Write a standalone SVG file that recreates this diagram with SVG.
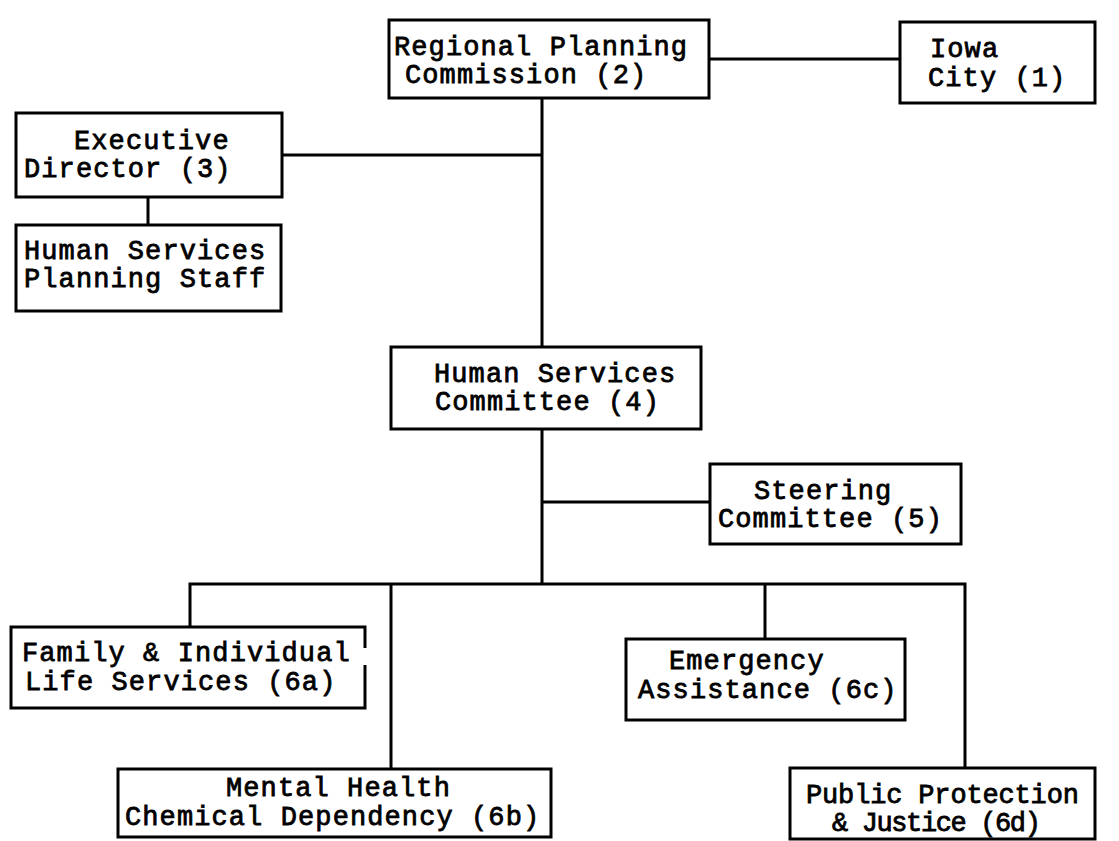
<svg xmlns="http://www.w3.org/2000/svg" width="1119" height="841" viewBox="0 0 1119 841">
<style>
 .box{fill:#fff;stroke:#000;stroke-width:3}
 .edge{fill:none;stroke:#000;stroke-width:3}
 .t{font-family:"Liberation Mono","DejaVu Sans Mono",monospace;font-size:27px;font-weight:normal;letter-spacing:1.1px;fill:#000;stroke:#000;stroke-width:0.8px}
 .c{fill:none;stroke:#000;stroke-width:3}
</style>
<rect width="1119" height="841" fill="#fff"/>
<g id="connectors">
 <path class="c" d="M709,59 H900"/>
 <path class="c" d="M542,98 V347"/>
 <path class="c" d="M282,155 H542"/>
 <path class="c" d="M148,197 V225"/>
 <path class="c" d="M542,429 V584"/>
 <path class="c" d="M542,502 H710"/>
 <path class="c" d="M190,626 V584 H965 V768"/>
 <path class="c" d="M391,584 V769"/>
 <path class="c" d="M765,584 V639"/>
</g>
<g id="regional">
 <rect class="box" x="389" y="20" width="320" height="78"/>
 <text class="t" x="394" y="55">Regional Planning</text>
 <text class="t" x="405" y="83">Commission (2)</text>
</g>
<g id="iowa">
 <rect class="box" x="900" y="22" width="195" height="81"/>
 <text class="t" x="930" y="57">Iowa</text>
 <text class="t" x="928" y="86">City (1)</text>
</g>
<g id="executive">
 <rect class="box" x="16" y="113" width="266" height="84"/>
 <text class="t" x="74" y="149">Executive</text>
 <text class="t" x="24" y="177">Director (3)</text>
</g>
<g id="staff">
 <rect class="box" x="16" y="225" width="265" height="86"/>
 <text class="t" x="24" y="259">Human Services</text>
 <text class="t" x="24" y="287">Planning Staff</text>
</g>
<g id="hsc">
 <rect class="box" x="391" y="347" width="310" height="82"/>
 <text class="t" x="434" y="382">Human Services</text>
 <text class="t" x="435" y="410">Committee (4)</text>
</g>
<g id="steering">
 <rect class="box" x="710" y="464" width="251" height="80"/>
 <text class="t" x="754" y="499">Steering</text>
 <text class="t" x="718" y="527">Committee (5)</text>
</g>
<g id="family">
 <rect x="11" y="627" width="354" height="81" fill="#fff"/>
 <path class="edge" d="M365,648 V627 H11 V708 H365 V665"/>
 <text class="t" x="22" y="661">Family &amp; Individual</text>
 <text class="t" x="25" y="690">Life Services (6a)</text>
</g>
<g id="mental">
 <rect class="box" x="118" y="769" width="433" height="68"/>
 <text class="t" x="226" y="796">Mental Health</text>
 <text class="t" x="125" y="825">Chemical Dependency (6b)</text>
</g>
<g id="emergency">
 <rect class="box" x="626" y="639" width="279" height="81"/>
 <text class="t" x="669" y="669">Emergency</text>
 <text class="t" x="638" y="698">Assistance (6c)</text>
</g>
<g id="public">
 <rect class="box" x="790" y="768" width="305" height="71"/>
 <text class="t" x="806" y="803" textLength="274" lengthAdjust="spacing">Public Protection</text>
 <text class="t" x="832" y="831" textLength="210" lengthAdjust="spacing">&amp; Justice (6d)</text>
</g>
</svg>
